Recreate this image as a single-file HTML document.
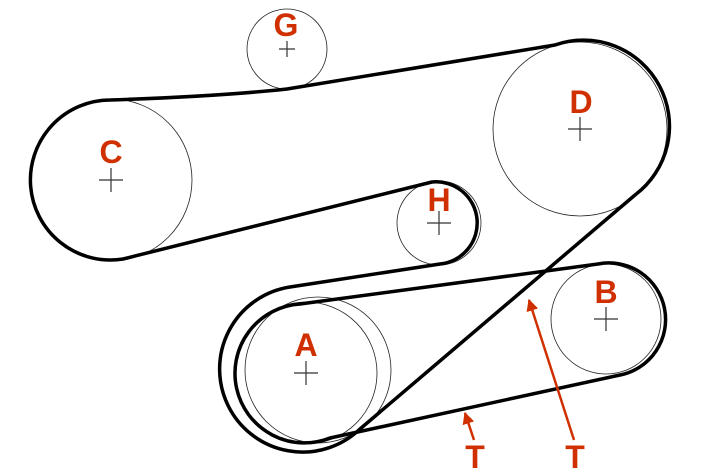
<!DOCTYPE html>
<html><head><style>
html,body{margin:0;padding:0;background:#fff;}
svg{display:block;}
text{font-family:"Liberation Sans",Arial,sans-serif;font-weight:bold;fill:#d03000;font-size:32px;text-anchor:middle;}
</style></head><body>
<svg width="709" height="473" viewBox="0 0 709 473">
<defs><marker id="ah" markerWidth="12" markerHeight="12" refX="9" refY="5" orient="auto" markerUnits="userSpaceOnUse" viewBox="0 0 10 10"><path d="M0,0 L10,5 L0,10 z" fill="#d03000"/></marker></defs>
<g fill="none" stroke="#222" stroke-width="0.8">
<circle cx="287" cy="49" r="40"/>
<circle cx="111" cy="180" r="81"/>
<circle cx="580" cy="129" r="87"/>
<circle cx="439" cy="223" r="42"/>
<circle cx="606" cy="319" r="55"/>
<circle cx="306" cy="373" r="71"/>
<circle cx="318" cy="370" r="73"/>
</g>
<g stroke="#333" stroke-width="1.2">
<path d="M279,49h16M287,41v16"/><path d="M99,180h24M111,168v24"/><path d="M568,129h24M580,117v24"/>
<path d="M427,223h24M439,211v24"/><path d="M594,319h24M606,307v24"/><path d="M294,373h24M306,361v24"/>
</g>
<g fill="none" stroke="#000" stroke-width="3.5" stroke-linejoin="round">
<path d="M110,100 C200,97 250,93 287,89 L555,45 A86,86 0 0 1 635,195 L360,429 A83,83 0 1 1 290,287 L440,264 A41,41 0 1 0 432,182 L123,259 A80,80 0 1 1 110,100 Z"/>
<path d="M300,304 L598,264 A56,56 0 0 1 620,375 L330,438 A69.5,69.5 0 1 1 300,304 Z"/>
</g>
<g stroke="#d03000" stroke-width="2.5" marker-end="url(#ah)">
<line x1="474" y1="440" x2="465" y2="413"/>
<line x1="574" y1="440" x2="529" y2="300"/>
</g>
<text x="286" y="36">G</text>
<text x="581" y="113">D</text>
<text x="111" y="163">C</text>
<text x="439" y="211">H</text>
<text x="606" y="303">B</text>
<text x="306" y="356">A</text>
<text x="475" y="468">T</text>
<text x="575" y="468">T</text>
</svg>
</body></html>
